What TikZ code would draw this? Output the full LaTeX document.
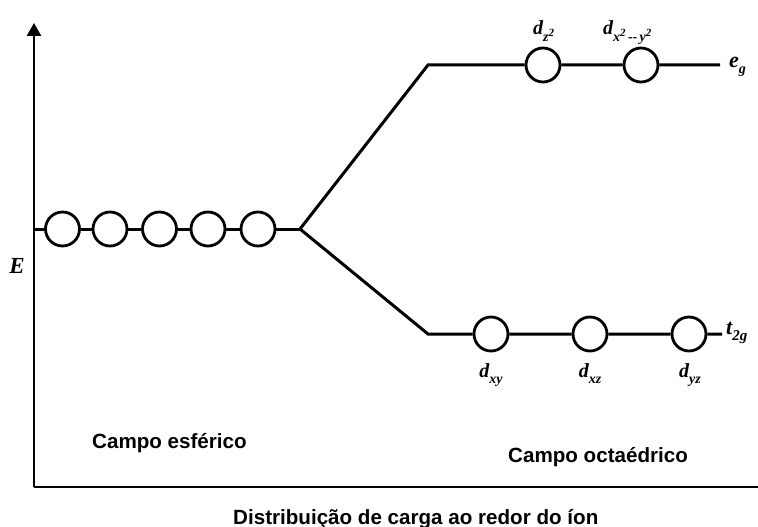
\documentclass[tikz,border=0pt]{standalone}
\usepackage{fontspec}
\setmainfont{Liberation Sans}
\newfontfamily\sbi{Liberation Serif}
\usetikzlibrary{arrows.meta}
\newcommand\orbsub[1]{\raisebox{-0.3em}{\fontsize{14}{14}\selectfont #1}}
\newcommand\orbd[1]{{\sbi\bfseries\itshape d\orbsub{#1}}}
\newcommand\sqsup[1]{\raisebox{0.3em}{\fontsize{11}{11}\selectfont #1}}
\begin{document}
\begin{tikzpicture}[x=1pt,y=-1pt,
  level/.style={line width=3pt,line join=miter},
  orbital/.style={circle,draw,fill=white,line width=2.8pt,minimum size=34pt,inner sep=0pt},
  axisline/.style={line width=2.6pt},
  caption/.style={font=\fontsize{20.6}{24}\selectfont\bfseries,inner sep=0pt},
  orblabel/.style={font=\fontsize{20}{22}\selectfont,inner sep=0pt},
  symb/.style={font=\fontsize{23}{26}\selectfont\sbi\bfseries\itshape,inner sep=0pt}]
\useasboundingbox (0,0) rectangle (758,527);
% axes
\coordinate (origin) at (34,487);
\coordinate (ytop) at (34,23);
\coordinate (xend) at (758,487);
\draw[axisline,-{Triangle[length=13pt,width=14pt]}] (origin) -- (ytop);
\draw[axisline] (origin) -- (xend);
\node[symb] (E) at (17,266) {E};
% spherical field level
\coordinate (lstart) at (34,229);
\coordinate (split) at (300,229);
\foreach \i/\x in {1/62.5,2/110,3/159.5,4/208,5/258}
  \node[orbital] (s\i) at (\x,229) {};
\draw[level] (lstart) -- (s1) (s1) -- (s2) (s2) -- (s3) (s3) -- (s4) (s4) -- (s5) (s5) -- (split);
% eg level
\coordinate (ucorner) at (428,65);
\coordinate (uend) at (720,65);
\node[orbital] (z2) at (543,65) {};
\node[orbital] (x2y2) at (641,65) {};
\draw[level] (split) -- (ucorner) -- (z2) (z2) -- (x2y2) (x2y2) -- (uend);
% t2g level
\coordinate (lcorner) at (428,334);
\coordinate (lend) at (722,334);
\node[orbital] (xy) at (491,334) {};
\node[orbital] (xz) at (590,334) {};
\node[orbital] (yz) at (689,334) {};
\draw[level] (split) -- (lcorner) -- (xy) (xy) -- (xz) (xz) -- (yz) (yz) -- (lend);
% orbital labels
\node[orblabel,anchor=base west] (lz2) at (533,35) {\orbd{z\sqsup{2}}};
\node[orblabel,anchor=base west] (lx2y2) at (603,35) {\orbd{x\sqsup{2}\,--\,y\sqsup{2}}};
\node[orblabel,anchor=base] (lxy) at (491,377) {\orbd{xy}};
\node[orblabel,anchor=base] (lxz) at (590,377) {\orbd{xz}};
\node[orblabel,anchor=base] (lyz) at (690,377) {\orbd{yz}};
\node[symb,anchor=base west,font=\fontsize{22}{24}\selectfont\sbi\bfseries\itshape] (eg) at (729,67) {e\raisebox{-0.3em}{\fontsize{14}{14}\selectfont g}};
\node[symb,anchor=base west,font=\fontsize{22}{24}\selectfont\sbi\bfseries\itshape] (t2g) at (726,334) {t\raisebox{-0.3em}{\fontsize{15}{15}\selectfont 2g}};
% captions
\node[caption,anchor=base west] (esf) at (92,448) {Campo esférico};
\node[caption,anchor=base west] (oct) at (508,462) {Campo octaédrico};
\node[caption,anchor=base west] (dist) at (233,524) {Distribuição de carga ao redor do íon};
\end{tikzpicture}
\end{document}
